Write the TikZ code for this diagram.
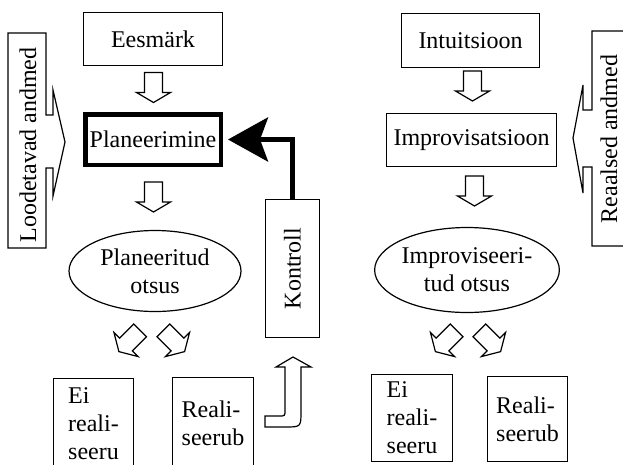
\documentclass[tikz,border=0pt]{standalone}
\usepackage{fontspec}
\usepackage{graphicx}
\setmainfont{Liberation Serif}
\usetikzlibrary{arrows.meta,shapes.geometric}
\tikzset{
  blockarrow/.pic={
    \draw[line width=1.2pt,fill=white] (-9,-15) -- (-9,5) -- (-17,5) -- (0,15) -- (17,5) -- (9,5) -- (9,-15) -- cycle;
  }
}
\begin{document}
\begin{tikzpicture}[x=1pt,y=-1pt,line width=1.2pt,
  font=\fontsize{24}{28}\selectfont,
  box/.style={draw,inner sep=0pt,align=left},
  oval/.style={draw,ellipse,inner sep=0pt,align=center}]
\useasboundingbox (0,0) rectangle (623,464);
% planning side
\node[box,minimum width=139pt,minimum height=53pt] (goal) at (153,39) {Eesmärk};
\node[box,line width=4.5pt,minimum width=135.5pt,minimum height=50.5pt] (plan) at (153,139.5) {Planeerimine};
\node[oval,minimum width=172pt,minimum height=81pt] (plandec) at (155,271) {Planeeritud\\otsus};
\node[box,minimum width=80pt,minimum height=91pt] (nolt) at (93.5,424) {Ei\\reali-\\seeru};
\node[box,minimum width=81pt,minimum height=92pt] (yeslt) at (213,423.5) {Reali-\\seerub};
\node[box,minimum width=54pt,minimum height=138pt] (check) at (292.5,268.5) {\rotatebox{90}{Kontroll}};
% improvising side
\node[box,minimum width=138pt,minimum height=54pt] (intuit) at (470.5,40.5) {Intuitsioon};
\node[box,minimum width=170pt,minimum height=53pt] (improv) at (471.5,140) {Improvisatsioon};
\node[oval,minimum width=175pt,minimum height=85pt] (improdec) at (467,270) {Improviseeri-\\tud otsus};
\node[box,minimum width=81pt,minimum height=87pt] (nort) at (412,418) {Ei\\reali-\\seeru};
\node[box,minimum width=80pt,minimum height=85pt] (yesrt) at (527.5,419) {Reali-\\seerub};
% callouts
\draw (8,33) -- (46,33) -- (46,115) -- (53,115) -- (53,90) -- (65,142) -- (53,196) -- (53,168) -- (46,168) -- (46,248) -- (8,248) -- cycle;
\node[rotate=90] (known) at (28,145) {Loodetavad andmed};
\draw (630,31) -- (592,31) -- (592,110) -- (583,110) -- (583,85) -- (573,138) -- (583,193) -- (583,167) -- (592,167) -- (592,246) -- (630,246);
\node[rotate=90] (real) at (609,139) {Reaalsed andmed};
% block arrows
\pic at (153.5,87.5) {blockarrow};
\pic at (153.5,197) {blockarrow};
\pic at (472.5,86) {blockarrow};
\pic at (474.5,191) {blockarrow};
\pic[rotate=-45] at (129.5,341) {blockarrow};
\pic[rotate=45] at (174,341) {blockarrow};
\pic[rotate=-45] at (446,341) {blockarrow};
\pic[rotate=45] at (490,341) {blockarrow};
\draw (265,416) -- (279,416) .. controls (285,416) .. (285,410) -- (285,367) -- (276,367) -- (293,357) -- (311,367) -- (301,367) -- (301,411) .. controls (301,427) .. (285,427) -- (265,427) -- cycle;
% feedback
\draw[line width=5pt,-{Stealth[length=40pt,width=44pt,inset=8pt]}] (check.north) |- ([xshift=5pt]plan.east);
\end{tikzpicture}
\end{document}
